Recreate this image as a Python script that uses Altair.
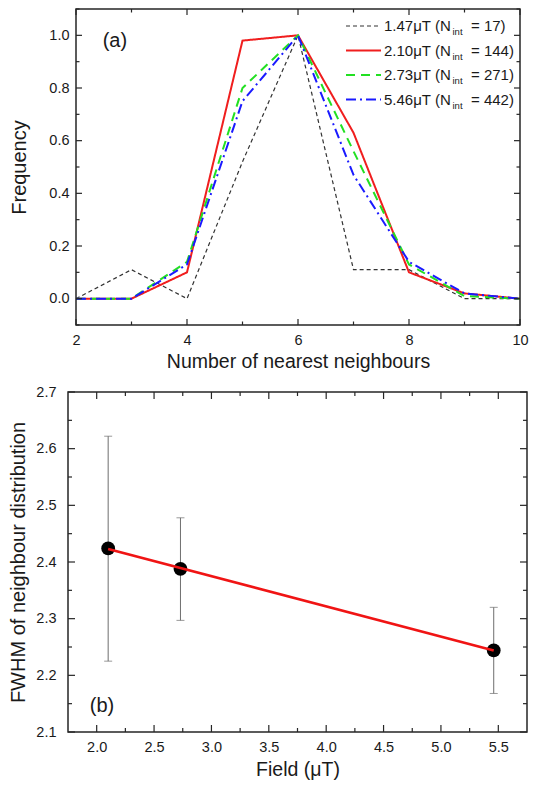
import altair as alt
import numpy as np
import pandas as pd

# ---------------- data: panel (a) ----------------
neighbours = [2, 3, 4, 5, 6, 7, 8, 9, 10]
freq_147 = [0.0, 0.11, 0.0, 0.52, 1.0, 0.11, 0.11, 0.0, 0.0]
freq_210 = [0.0, 0.0, 0.10, 0.98, 1.0, 0.63, 0.10, 0.02, 0.0]
freq_273 = [0.0, 0.0, 0.14, 0.80, 1.0, 0.56, 0.13, 0.01, 0.0]
freq_546 = [0.0, 0.0, 0.13, 0.75, 1.0, 0.47, 0.14, 0.02, 0.0]
series_field = ["1.47", "2.10", "2.73", "5.46"]
series_nint = ["17", "144", "271", "442"]

# ---------------- data: panel (b) ----------------
field_uT = [2.10, 2.73, 5.46]
fwhm = [2.424, 2.388, 2.244]
fwhm_lo = [2.225, 2.297, 2.168]
fwhm_hi = [2.622, 2.478, 2.320]

# ---------------- styles ----------------
FONT = "Liberation Sans"
FRAME = "#262626"
INK = "#1a1a1a"
series_color = ["#333333", "#f01e1e", "#22e022", "#1a1aff"]
series_dash = [[4, 3], [1, 0], [9, 6], [10, 4, 2, 4]]
series_width = [1.2, 2.0, 2.0, 2.0]
series_vals = [freq_147, freq_210, freq_273, freq_546]

SHIFT = 8            # panel (a) frame starts 8 px right of panel (b) frame
WA, HA = 452, 316    # group width of panel (a) (frame spans SHIFT..WA)
WB, HB = 459, 340


def rl(a, b, s):
    return [round(float(v), 4) for v in np.arange(a, b + 1e-9, s)]


def tick_layers(X, Y, xmaj, xmin, ymaj, ymin, x0, x1, H, Lmaj, Lmin):
    layers = []
    for vals, L in ((xmaj, Lmaj), (xmin, Lmin)):
        base = alt.Chart(pd.DataFrame({"t": vals})).mark_rule(color=FRAME, strokeWidth=1.2)
        layers.append(base.encode(x=X("t:Q"), y=alt.value(H), y2=alt.value(H - L)))
        layers.append(base.encode(x=X("t:Q"), y=alt.value(0), y2=alt.value(L)))
    for vals, L in ((ymaj, Lmaj), (ymin, Lmin)):
        base = alt.Chart(pd.DataFrame({"t": vals})).mark_rule(color=FRAME, strokeWidth=1.2)
        layers.append(base.encode(y=Y("t:Q"), x=alt.value(x0), x2=alt.value(x0 + L)))
        layers.append(base.encode(y=Y("t:Q"), x=alt.value(x1), x2=alt.value(x1 - L)))
    return layers


# ---------------- panel (a) ----------------
xs_a = alt.Scale(domain=[2, 10], range=[SHIFT, WA], nice=False, zero=False)
ys_a = alt.Scale(domain=[-0.1, 1.1], nice=False, zero=False)
ax_xa = alt.Axis(title="Number of nearest neighbours", values=[2, 4, 6, 8, 10], format="d",
                 tickSize=0, domain=False, grid=False, labelPadding=8, titlePadding=6,
                 labelFlush=False, titleX=(SHIFT + WA) / 2, titleFontSize=19.5)
ax_ya = alt.Axis(title="Frequency", values=rl(0, 1.0, 0.2), format=".1f", offset=-SHIFT,
                 tickSize=0, domain=False, grid=False, labelPadding=7, titlePadding=19)


def XA(f):
    return alt.X(f, scale=xs_a, axis=ax_xa)


def YA(f):
    return alt.Y(f, scale=ys_a, axis=ax_ya)


layers_a = []
for i in range(4):
    df = pd.DataFrame({"n": neighbours, "f": series_vals[i]})
    layers_a.append(
        alt.Chart(df).mark_line(color=series_color[i], strokeDash=series_dash[i],
                                strokeWidth=series_width[i]).encode(x=XA("n:Q"), y=YA("f:Q"))
    )

layers_a += tick_layers(XA, YA, rl(2, 10, 2), rl(3, 9, 2), rl(0, 1.0, 0.2), rl(-0.1, 1.1, 0.2),
                        SHIFT, WA, HA, 6, 3.5)

# frame of panel (a)
layers_a.append(
    alt.Chart(pd.DataFrame({"k": [0]})).mark_rect(fillOpacity=0, stroke=FRAME, strokeWidth=1.5)
    .encode(x=alt.value(SHIFT), x2=alt.value(WA), y=alt.value(0), y2=alt.value(HA))
)

# custom legend (with subscript "int")
leg_y = [17, 41.5, 66, 90.5]
LX = WA - 174
for i in range(4):
    ldf = pd.DataFrame({"a": [f"{series_field[i]}\u03bcT (N"], "s": ["int"],
                        "b": [f"= {series_nint[i]})"]})
    base = alt.Chart(ldf)
    layers_a.append(base.mark_rule(color=series_color[i], strokeDash=series_dash[i],
                                   strokeWidth=series_width[i]).encode(
        x=alt.value(LX), x2=alt.value(LX + 35), y=alt.value(leg_y[i])))
    layers_a.append(base.mark_text(align="left", baseline="middle", fontSize=15, font=FONT,
                                   color=INK).encode(
        x=alt.value(LX + 38), y=alt.value(leg_y[i]), text="a:N"))
    layers_a.append(base.mark_text(align="left", baseline="middle", fontSize=9.5, font=FONT,
                                   color=INK).encode(
        x=alt.value(LX + 106.5), y=alt.value(leg_y[i] + 6), text="s:N"))
    layers_a.append(base.mark_text(align="left", baseline="middle", fontSize=15, font=FONT,
                                   color=INK).encode(
        x=alt.value(LX + 125), y=alt.value(leg_y[i]), text="b:N"))

ann_a = pd.DataFrame({"x": [2.48], "y": [0.98], "t": ["(a)"]})
layers_a.append(alt.Chart(ann_a).mark_text(align="left", baseline="middle", fontSize=20,
                                           font=FONT, color=INK).encode(
    x=XA("x:Q"), y=YA("y:Q"), text="t:N"))

chart_a = alt.layer(*layers_a).properties(
    width=WA, height=HA, view=alt.ViewBackground(strokeOpacity=0))

# ---------------- panel (b) ----------------
xs_b = alt.Scale(domain=[1.75, 5.75], nice=False, zero=False)
ys_b = alt.Scale(domain=[2.1, 2.7], nice=False, zero=False)
ax_xb = alt.Axis(title="Field (\u03bcT)", values=rl(2.0, 5.5, 0.5), format=".1f",
                 tickSize=0, domain=False, grid=False, labelPadding=8, titlePadding=7,
                 labelFlush=False, titleFontSize=19.5)
ax_yb = alt.Axis(title="FWHM of neighbour distribution", values=rl(2.1, 2.7, 0.1), format=".1f",
                 tickSize=0, domain=False, grid=False, labelPadding=12, titlePadding=7)


def XB(f):
    return alt.X(f, scale=xs_b, axis=ax_xb)


def YB(f):
    return alt.Y(f, scale=ys_b, axis=ax_yb)


df_b = pd.DataFrame({"field": field_uT, "fwhm": fwhm, "lo": fwhm_lo, "hi": fwhm_hi})
base_b = alt.Chart(df_b)

err = base_b.mark_rule(color="#6e6e6e", strokeWidth=1).encode(
    x=XB("field:Q"), y=YB("lo:Q"), y2="hi:Q")
cap_lo = base_b.mark_tick(orient="horizontal", size=8, thickness=1, color="#6e6e6e").encode(
    x=XB("field:Q"), y=YB("lo:Q"))
cap_hi = base_b.mark_tick(orient="horizontal", size=8, thickness=1, color="#6e6e6e").encode(
    x=XB("field:Q"), y=YB("hi:Q"))
pts = base_b.mark_circle(size=190, color="#000000", opacity=1).encode(
    x=XB("field:Q"), y=YB("fwhm:Q"))
fit = base_b.transform_regression("field", "fwhm").mark_line(color="#f01414", strokeWidth=2.6).encode(
    x=XB("field:Q"), y=YB("fwhm:Q"))

ann_b = pd.DataFrame({"x": [1.94], "y": [2.146], "t": ["(b)"]})
lab_b = alt.Chart(ann_b).mark_text(align="left", baseline="middle", fontSize=20, font=FONT,
                                   color=INK).encode(x=XB("x:Q"), y=YB("y:Q"), text="t:N")

layers_b = [err, cap_lo, cap_hi, pts, fit, lab_b]
layers_b += tick_layers(XB, YB, rl(2.0, 5.5, 0.5), rl(2.25, 5.25, 0.5), rl(2.1, 2.7, 0.1),
                        rl(2.15, 2.65, 0.1), 0, WB, HB, 7, 4)

chart_b = alt.layer(*layers_b).properties(width=WB, height=HB)

chart = (
    alt.vconcat(chart_a, chart_b, spacing=12)
    .properties(padding={"left": 0, "top": 0, "right": 0, "bottom": 0})
    .configure_view(stroke=FRAME, strokeWidth=1.5)
    .configure_axis(labelFont=FONT, titleFont=FONT, labelFontSize=14.5, titleFontSize=20,
                    titleFontWeight="normal", labelColor=INK, titleColor=INK)
    .configure_text(font=FONT)
)

chart.save("out.html", embed_options={"renderer": "svg", "actions": False})
